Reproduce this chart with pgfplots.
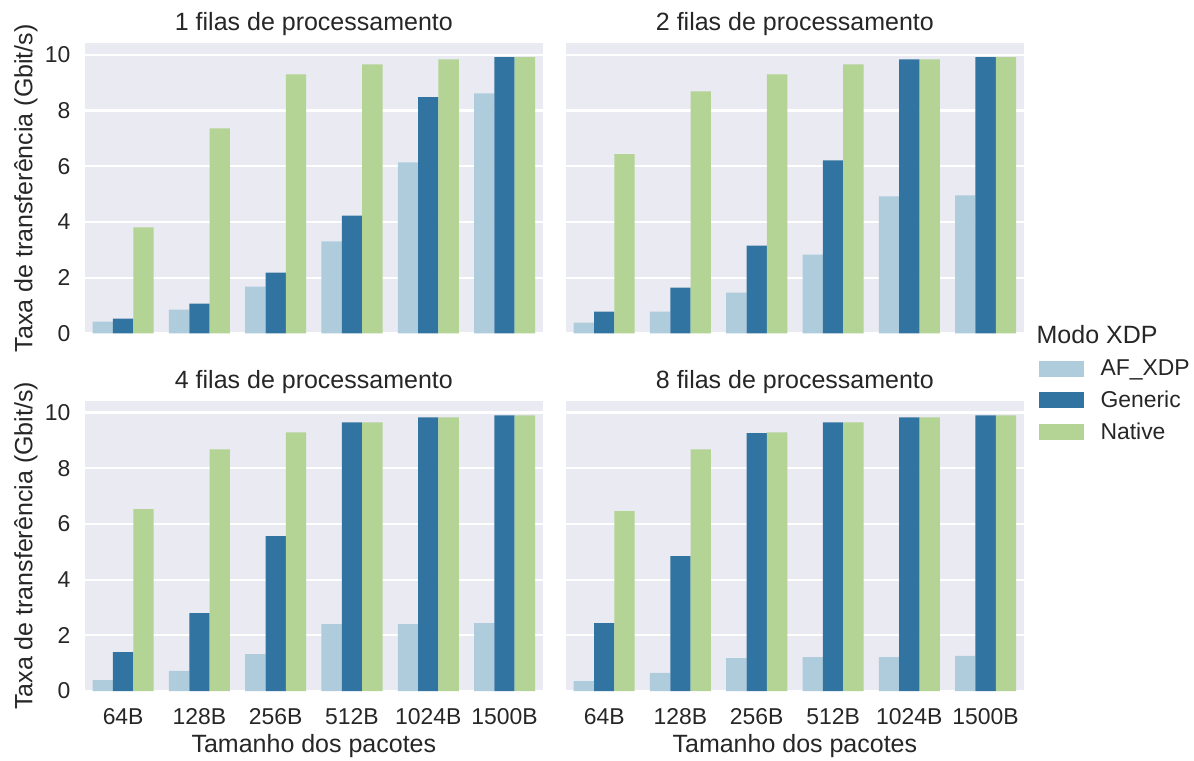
\documentclass[border=0pt]{standalone}
\usepackage{fontspec}
\setmainfont{Liberation Sans}
\usepackage{pgfplots}
\usepackage{pgfplotstable}
\pgfplotsset{compat=1.18}

\definecolor{afxdp}{HTML}{AECCDB}
\definecolor{generic}{HTML}{3274A1}
\definecolor{native}{HTML}{B3D495}
\definecolor{panelbg}{HTML}{EAEAF2}
\definecolor{txt}{HTML}{262626}

% x = packet size index (64B ... 1500B), values in Gbit/s
\pgfplotstableread{
x af gen nat
0 0.42 0.53 3.80
1 0.85 1.07 7.36
2 1.68 2.18 9.30
3 3.30 4.23 9.66
4 6.14 8.48 9.84
5 8.62 9.92 9.92
}\filasA
\pgfplotstableread{
x af gen nat
0 0.38 0.78 6.43
1 0.78 1.64 8.69
2 1.46 3.15 9.30
3 2.83 6.21 9.66
4 4.92 9.84 9.84
5 4.95 9.92 9.92
}\filasB
\pgfplotstableread{
x af gen nat
0 0.39 1.40 6.53
1 0.72 2.80 8.68
2 1.33 5.56 9.29
3 2.40 9.65 9.65
4 2.40 9.83 9.83
5 2.44 9.90 9.90
}\filasC
\pgfplotstableread{
x af gen nat
0 0.36 2.44 6.46
1 0.65 4.84 8.68
2 1.18 9.26 9.29
3 1.22 9.65 9.65
4 1.22 9.83 9.83
5 1.26 9.90 9.90
}\filasD

\pgfplotsset{
  panel/.style={
    scale only axis, width=219.7pt, height=139.3pt, anchor=south west,
    xmin=-0.5, xmax=5.5, ymin=0, ymax=10.42,
    xtick={0,...,5}, ytick={0,2,...,10},
    axis background/.style={fill=panelbg},
    axis line style={draw=none},
    major tick length=0pt,
    ymajorgrids, grid style={white, line width=1pt},
    ybar=0pt, bar width=0.26667,
    legend image code/.code={\fill[##1] (0pt,-3.9pt) rectangle (21.6pt,3.9pt); \path (27.4pt,0pt);},
    tick label style={font=\fontsize{11}{13}\selectfont, text=txt},
    /pgf/number format/assume math mode=true,
    yticklabel style={xshift=-3.5pt},
    xticklabel style={yshift=-5pt},
    label style={font=\fontsize{12}{14}\selectfont, text=txt},
    ylabel style={at={(axis description cs:-0.129,0.5)}, anchor=center},
    xlabel style={at={(axis description cs:0.5,-0.189)}, anchor=center},
    title style={font=\fontsize{12}{14}\selectfont, text=txt, anchor=base, at={(0.5,1)}, yshift=0pt},
  },
  sizelabels/.style={xticklabels={64B,128B,256B,512B,1024B,1500B}},
}

\newcommand{\bars}[1]{%
  \addplot[fill=afxdp, draw=none] table[x=x, y=af] {#1};
  \addplot[fill=generic, draw=none] table[x=x, y=gen] {#1};
  \addplot[fill=native, draw=none] table[x=x, y=nat] {#1};
}

\begin{document}
\begin{tikzpicture}
\useasboundingbox (0,0) rectangle (573.12pt,364.8pt);

\begin{axis}[panel, at={(40.8pt,204.8pt)},
  xticklabels={}, title={1 filas de processamento},
  ylabel={Taxa de transferência (Gbit/s)}]
\bars{\filasA}
\end{axis}

\begin{axis}[panel, at={(271.7pt,204.8pt)},
  xticklabels={}, yticklabels={}, title={2 filas de processamento}]
\bars{\filasB}
\end{axis}

\begin{axis}[panel, at={(40.8pt,33.1pt)}, sizelabels,
  title={4 filas de processamento},
  ylabel={Taxa de transferência (Gbit/s)}, xlabel={Tamanho dos pacotes}]
\bars{\filasC}
\end{axis}

\begin{axis}[panel, at={(271.7pt,33.1pt)}, sizelabels, yticklabels={},
  title={8 filas de processamento}, xlabel={Tamanho dos pacotes},
  legend style={at={(1.033,1.159)}, anchor=north west, draw=none, fill=none,
    font=\fontsize{11}{13}\selectfont, text=txt, inner sep=0pt,
    row sep=1.9pt, legend cell align=left,
    nodes={inner sep=2pt}},
  ]
\bars{\filasD}
\legend{AF\_XDP, Generic, Native}
\end{axis}

\node[anchor=base, font=\fontsize{12}{14}\selectfont, text=txt] at (526.6pt,199.7pt) {Modo XDP};
\end{tikzpicture}
\end{document}
